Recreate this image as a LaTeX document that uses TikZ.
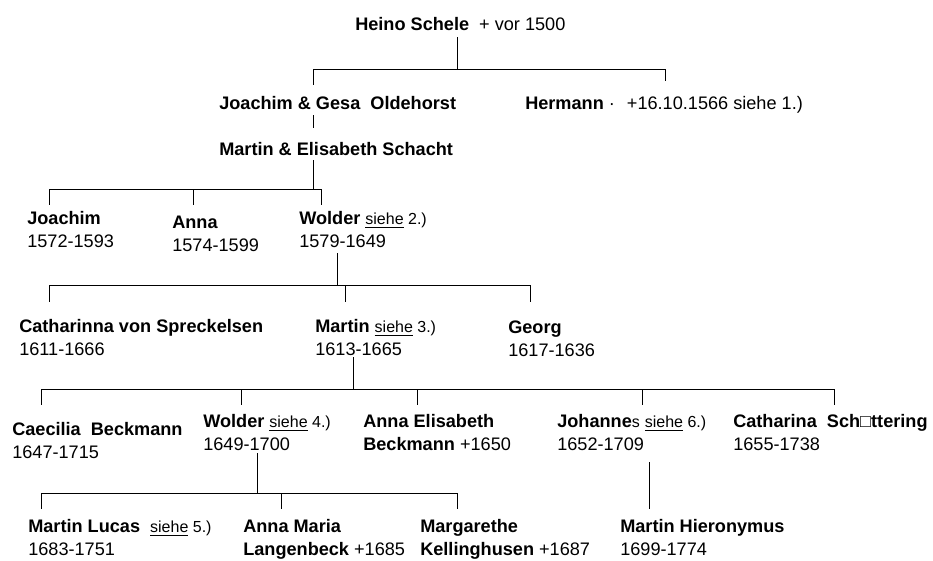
\documentclass[tikz,border=0pt]{standalone}
\usepackage{fontspec}
\setmainfont{Liberation Sans}
\newcommand\sieheref[1]{{\fontsize{12pt}{16.9pt}\selectfont\underline{siehe} #1}}

\begin{document}
\begin{tikzpicture}[x=0.75pt,y=-0.75pt,
  person/.style={anchor=base west, inner sep=0pt, align=left,
    font=\fontsize{13.6pt}{16.9pt}\selectfont},
  link/.style={draw, line width=0.75pt}]
\useasboundingbox (0,0) rectangle (933,561);

% generation 0 and 1 (base = last line)
\node[person] (hs) at (355,30) {\textbf{Heino Schele}\ \ + vor 1500};
\node[person] (jg) at (219,109) {\textbf{Joachim \& Gesa\ \ Oldehorst}};
\node[person] (hm) at (525,109) {\textbf{Hermann} ·\hspace{9pt}+16.10.1566 siehe 1.)};
\node[person] (mes) at (219,155.5) {\textbf{Martin \& Elisabeth Schacht}};

% generation 2
\node[person] (jo) at (27,247.5) {\textbf{Joachim}\\1572-1593};
\node[person] (an) at (172,251.5) {\textbf{Anna}\\1574-1599};
\node[person] (wo) at (299,247.5) {\textbf{Wolder} \sieheref{2.)}\\1579-1649};

% generation 3
\node[person] (cs) at (19,355.5) {\textbf{Catharinna von Spreckelsen}\\1611-1666};
\node[person] (ma) at (315,355.5) {\textbf{Martin} \sieheref{3.)}\\1613-1665};
\node[person] (ge) at (508,356.5) {\textbf{Georg}\\1617-1636};

% generation 4
\node[person] (cb) at (12,458.5) {\textbf{Caecilia\ \ Beckmann}\\1647-1715};
\node[person] (wl) at (203,450.5) {\textbf{Wolder} \sieheref{4.)}\\1649-1700};
\node[person] (ae) at (363,450.5) {\textbf{Anna Elisabeth}\\\textbf{Beckmann} +1650};
\node[person] (jh) at (557,450.5) {\textbf{Johanne}{\fontsize{12pt}{16.9pt}\selectfont s} \sieheref{6.)}\\1652-1709};
\node[person] (ct) at (733,450.5) {\textbf{Catharina\ \ Sch}□\textbf{ttering}\\1655-1738};

% generation 5
\node[person] (ml) at (28,555.5) {\textbf{Martin Lucas}\ \ \sieheref{5.)}\\1683-1751};
\node[person] (am) at (243,555.5) {\textbf{Anna Maria}\\\textbf{Langenbeck} +1685};
\node[person] (mk) at (420,555.5) {\textbf{Margarethe}\\\textbf{Kellinghusen} +1687};
\node[person] (mh) at (620,555.5) {\textbf{Martin Hieronymus}\\1699-1774};

% stems and drops
\coordinate (hs-s) at (457,37);
\coordinate (jg-n) at (313,85);
\coordinate (hm-n) at (665,81);
\coordinate (jg-s) at (313,115);
\coordinate (mes-n) at (313,128);
\coordinate (mes-s) at (313,160);
\coordinate (jo-n) at (49,205);
\coordinate (an-n) at (193,205);
\coordinate (wo-n) at (321,205);
\coordinate (wo-s) at (337,253);
\coordinate (cs-n) at (49,302);
\coordinate (ma-n) at (345,302);
\coordinate (ge-n) at (530,302);
\coordinate (ma-s) at (353,357);
\coordinate (cb-n) at (41,405);
\coordinate (wl-n) at (241,405);
\coordinate (ae-n) at (417,405);
\coordinate (jh-n) at (642,405);
\coordinate (ct-n) at (834,405);
\coordinate (wl-s) at (257,453);
\coordinate (ml-n) at (41,509);
\coordinate (am-n) at (281,509);
\coordinate (mk-n) at (457,509);
\coordinate (jh-s) at (649,462);
\coordinate (mh-n) at (649,509);

% connectors
\path[link] (hs-s) -- ++(0,32) -| (jg-n);
\path[link] (hs-s) ++(0,32) -| (hm-n);
\path[link] (jg-s) -- (mes-n);
\path[link] (mes-s) -- ++(0,29) -| (jo-n);
\path[link] (mes-s) ++(0,29) -| (an-n);
\path[link] (mes-s) ++(0,29) -| (wo-n);
\path[link] (wo-s) -- ++(0,32) -| (cs-n);
\path[link] (wo-s) ++(0,32) -| (ma-n);
\path[link] (wo-s) ++(0,32) -| (ge-n);
\path[link] (ma-s) -- ++(0,32) -| (cb-n);
\path[link] (ma-s) ++(0,32) -| (wl-n);
\path[link] (ma-s) ++(0,32) -| (ae-n);
\path[link] (ma-s) ++(0,32) -| (jh-n);
\path[link] (ma-s) ++(0,32) -| (ct-n);
\path[link] (wl-s) -- ++(0,40) -| (ml-n);
\path[link] (wl-s) ++(0,40) -| (am-n);
\path[link] (wl-s) ++(0,40) -| (mk-n);
\path[link] (jh-s) -- (mh-n);
\end{tikzpicture}
\end{document}
